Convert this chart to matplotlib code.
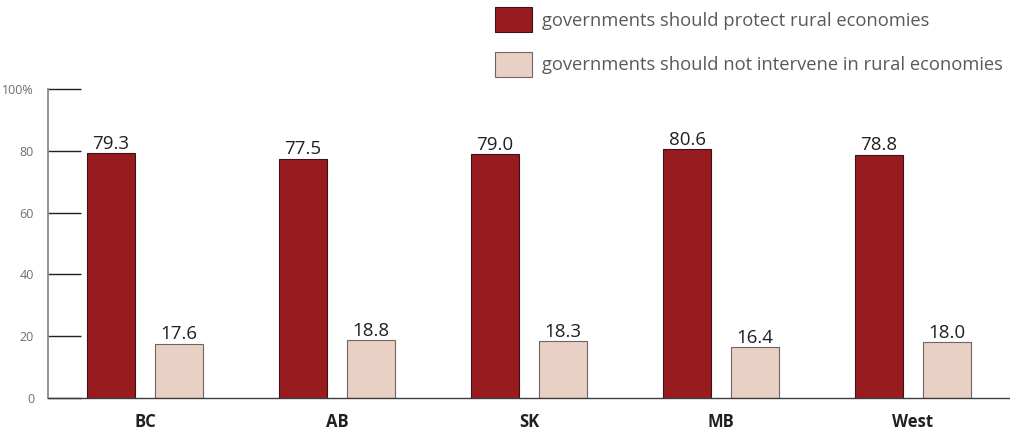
import numpy as np
import matplotlib.pyplot as plt
from matplotlib.patches import Rectangle

regions = ["BC", "AB", "SK", "MB", "West"]
protect = [79.3, 77.5, 79.0, 80.6, 78.8]
not_intervene = [17.6, 18.8, 18.3, 16.4, 18.0]
series_labels = ["governments should protect rural economies",
                 "governments should not intervene in rural economies"]
y_ticks = [0, 20, 40, 60, 80, 100]
y_tick_labels = ["0", "20", "40", "60", "80", "100%"]

RED = "#981B20"
PINK = "#E9D0C4"

plt.rcParams["font.family"] = ["Open Sans", "DejaVu Sans"]

W, H = 1010, 432
fig = plt.figure(figsize=(W / 100, H / 100), dpi=100)
ax = fig.add_axes([48 / W, 1 - 398 / H, (1010 - 48) / W, (398 - 89) / H])

x = np.arange(len(regions))
width = 0.25
off = 0.177

b1 = ax.bar(x - off, protect, width, color=RED, edgecolor="#3a1416", linewidth=0.8)
b2 = ax.bar(x + off, not_intervene, width, color=PINK, edgecolor="#6e6460", linewidth=0.8)

for bars, vals in ((b1, protect), (b2, not_intervene)):
    for rect, v in zip(bars, vals):
        ax.text(rect.get_x() + rect.get_width() / 2, v + 0.1, f"{v:.1f}",
                ha="center", va="bottom", fontsize=13.5, color="#231f20")

ax.set_xlim(-0.505, len(regions) - 0.495)
ax.set_ylim(0, 100)
ax.set_xticks(x)
ax.set_xticklabels(regions, fontsize=12, fontweight="bold", color="#231f20")
ax.tick_params(axis="x", length=0, pad=11)

ax.set_yticks(y_ticks)
ax.set_yticklabels(y_tick_labels, fontsize=9, color="#6d6e71")
ax.tick_params(axis="y", direction="in", length=24, width=1, color="#231f20", pad=10)

for s in ("top", "right"):
    ax.spines[s].set_visible(False)
ax.spines["left"].set_color("#808080")
ax.spines["left"].set_linewidth(1.2)
ax.spines["bottom"].set_color("#404040")
ax.spines["bottom"].set_linewidth(1.0)

# legend drawn by hand in figure pixels
for (top, color, edge), label in zip(((7, RED, "#3a1416"), (52, PINK, "#6e6460")), series_labels):
    fig.patches.append(Rectangle((495 / W, 1 - (top + 25) / H), 37 / W, 25 / H,
                                 transform=fig.transFigure, facecolor=color,
                                 edgecolor=edge, linewidth=0.8))
    fig.text(542 / W, 1 - (top + 13.5) / H, label, ha="left", va="center",
             fontsize=13.2, color="#58595b")

fig.savefig("out.png", dpi=100)
